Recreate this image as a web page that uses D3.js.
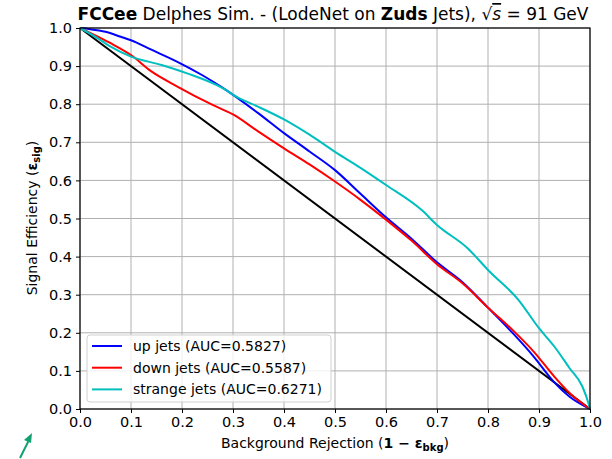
<!DOCTYPE html>
<html>
<head>
<meta charset="utf-8">
<script src="https://cdn.jsdelivr.net/npm/d3@7"></script>
<style>
  body { margin: 0; background: #fff; }
  text { font-family: "DejaVu Sans", sans-serif; }
</style>
</head>
<body>
<div id="roc"></div>
<script>
// Ticks
var xTicks = [0.0, 0.1, 0.2, 0.3, 0.4, 0.5, 0.6, 0.7, 0.8, 0.9, 1.0];
var yTicks = [0.0, 0.1, 0.2, 0.3, 0.4, 0.5, 0.6, 0.7, 0.8, 0.9, 1.0];

// Background rejection (x) / signal efficiency (y)
var upX = [0, 0.02, 0.05, 0.08, 0.1, 0.14, 0.19, 0.24, 0.28, 0.35, 0.4, 0.45, 0.5, 0.55, 0.6, 0.65, 0.7, 0.75, 0.8, 0.85, 0.89, 0.93, 0.96, 1.0];
var upY = [1.0, 0.997, 0.99, 0.977, 0.968, 0.943, 0.912, 0.876, 0.843, 0.776, 0.724, 0.676, 0.627, 0.565, 0.503, 0.447, 0.385, 0.333, 0.266, 0.197, 0.137, 0.07, 0.032, 0.0];

var downX = [0, 0.035, 0.06, 0.1, 0.14, 0.19, 0.26, 0.3, 0.35, 0.4, 0.45, 0.5, 0.55, 0.6, 0.65, 0.7, 0.75, 0.8, 0.85, 0.89, 0.93, 0.96, 1.0];
var downY = [1.0, 0.977, 0.96, 0.929, 0.886, 0.847, 0.798, 0.773, 0.728, 0.684, 0.642, 0.597, 0.549, 0.497, 0.442, 0.38, 0.33, 0.266, 0.205, 0.15, 0.085, 0.042, 0.0];

var strangeX = [0, 0.035, 0.06, 0.1, 0.16, 0.21, 0.28, 0.31, 0.35, 0.4, 0.45, 0.5, 0.55, 0.6, 0.67, 0.7, 0.76, 0.8, 0.86, 0.9, 0.93, 0.96, 0.985, 0.997, 1.0];
var strangeY = [1.0, 0.973, 0.951, 0.925, 0.903, 0.881, 0.842, 0.817, 0.793, 0.76, 0.72, 0.675, 0.633, 0.588, 0.522, 0.483, 0.422, 0.365, 0.286, 0.212, 0.164, 0.107, 0.059, 0.015, 0.0];

var randomX = [0, 1];
var randomY = [1, 0];

var seriesNames = ["up jets (AUC=0.5827)", "down jets (AUC=0.5587)", "strange jets (AUC=0.6271)"];
var seriesColors = ["#0000ff", "#ff0000", "#00bfbf"];

function createRocPlot() {
  d3.select("#roc").select("svg").remove();

  var margin = {top: 28, right: 22, bottom: 50, left: 80},
      width = 590 - margin.left,
      height = 409 - margin.top;

  var root = d3.select("#roc")
    .append("svg")
      .attr("width", 612)
      .attr("height", 459);

  var svg = root.append("g")
      .attr("transform", "translate(" + margin.left + "," + margin.top + ")");

  var x = d3.scaleLinear().domain([0, 1]).range([0, width]);
  var y = d3.scaleLinear().domain([0, 1]).range([height, 0]);

  // grid
  svg.append("g")
    .selectAll("line")
    .data(xTicks)
    .enter().append("line")
      .attr("x1", function (d) { return x(d); })
      .attr("x2", function (d) { return x(d); })
      .attr("y1", 0).attr("y2", height)
      .attr("stroke", "#b0b0b0").attr("stroke-width", 1);
  svg.append("g")
    .selectAll("line")
    .data(yTicks)
    .enter().append("line")
      .attr("y1", function (d) { return y(d); })
      .attr("y2", function (d) { return y(d); })
      .attr("x1", 0).attr("x2", width)
      .attr("stroke", "#b0b0b0").attr("stroke-width", 1);

  // curves
  var line = d3.line()
    .curve(d3.curveMonotoneX)
    .x(function (d) { return x(d[0]); })
    .y(function (d) { return y(d[1]); });

  function pairs(xs, ys) { return xs.map(function (v, i) { return [v, ys[i]]; }); }

  var curves = [pairs(upX, upY), pairs(downX, downY), pairs(strangeX, strangeY)];

  svg.append("path")
    .datum(pairs(randomX, randomY))
    .attr("d", line)
    .attr("fill", "none")
    .attr("stroke", "#000")
    .attr("stroke-width", 2);

  curves.forEach(function (c, i) {
    svg.append("path")
      .datum(c)
      .attr("d", line)
      .attr("fill", "none")
      .attr("stroke", seriesColors[i])
      .attr("stroke-width", 2)
      .attr("stroke-linejoin", "round");
  });

  // axes
  var xAxis = svg.append("g")
    .attr("transform", "translate(0," + height + ")")
    .call(d3.axisBottom(x).tickValues(xTicks).tickFormat(d3.format(".1f")).tickSizeInner(4).tickSizeOuter(0).tickPadding(4));
  var yAxis = svg.append("g")
    .call(d3.axisLeft(y).tickValues(yTicks).tickFormat(d3.format(".1f")).tickSizeInner(4).tickSizeOuter(0).tickPadding(4));
  [xAxis, yAxis].forEach(function (a) {
    a.select(".domain").remove();
    a.selectAll("text").attr("font-size", 14.5).attr("fill", "#000").attr("font-family", "DejaVu Sans");
    a.selectAll("line").attr("stroke", "#000");
  });

  // frame
  svg.append("rect")
    .attr("width", width).attr("height", height)
    .attr("fill", "none").attr("stroke", "#000").attr("stroke-width", 1.2);

  // legend
  var lg = svg.append("g").attr("transform", "translate(7," + (height - 74) + ")");
  lg.append("rect")
    .attr("width", 244).attr("height", 67).attr("rx", 3)
    .attr("fill", "#fff").attr("fill-opacity", 0.8)
    .attr("stroke", "#d0d0d0");
  seriesNames.forEach(function (n, i) {
    var yy = 11 + i * 21.7;
    lg.append("line")
      .attr("x1", 5).attr("x2", 35).attr("y1", yy).attr("y2", yy)
      .attr("stroke", seriesColors[i]).attr("stroke-width", 2);
    lg.append("text")
      .attr("x", 46).attr("y", yy + 5)
      .attr("font-size", 14)
      .text(n);
  });

  // title
  var t = root.append("text")
    .attr("x", 333).attr("y", 20)
    .attr("text-anchor", "middle")
    .attr("font-size", 17);
  t.append("tspan").attr("font-weight", "bold").text("FCCee");
  t.append("tspan").text(" Delphes Sim. - (LodeNet on ");
  t.append("tspan").attr("font-weight", "bold").text("Zuds");
  t.append("tspan").text(" Jets), \u221A");
  t.append("tspan").attr("font-style", "italic").attr("text-decoration", "overline").text("s");
  t.append("tspan").text(" = 91 GeV");

  // axis labels
  var xl = root.append("text")
    .attr("x", 335).attr("y", 448)
    .attr("text-anchor", "middle")
    .attr("font-size", 14)
    .text("Background Rejection (");
  xl.append("tspan").attr("font-weight", "bold").text("1 \u2212 \u03B5");
  xl.append("tspan").attr("font-weight", "bold").attr("font-size", 10).attr("dy", 3).text("bkg");
  xl.append("tspan").attr("dy", -3).text(")");

  var yl = root.append("text")
    .attr("transform", "translate(37,218) rotate(-90)")
    .attr("text-anchor", "middle")
    .attr("font-size", 14)
    .text("Signal Efficiency (");
  yl.append("tspan").attr("font-weight", "bold").text("\u03B5");
  yl.append("tspan").attr("font-weight", "bold").attr("font-size", 10).attr("dy", 3).text("sig");
  yl.append("tspan").attr("dy", -3).text(")");

  // green arrow mark in the lower left corner
  root.append("path")
    .attr("d", "M20,458 L29,440")
    .attr("stroke", "#12a070").attr("stroke-width", 2).attr("fill", "none");
  root.append("path")
    .attr("d", "M32,433 L24,440 L31,443 Z")
    .attr("fill", "#12a070");
}

document.addEventListener("DOMContentLoaded", function () {
  createRocPlot();
});
</script>
</body>
</html>
